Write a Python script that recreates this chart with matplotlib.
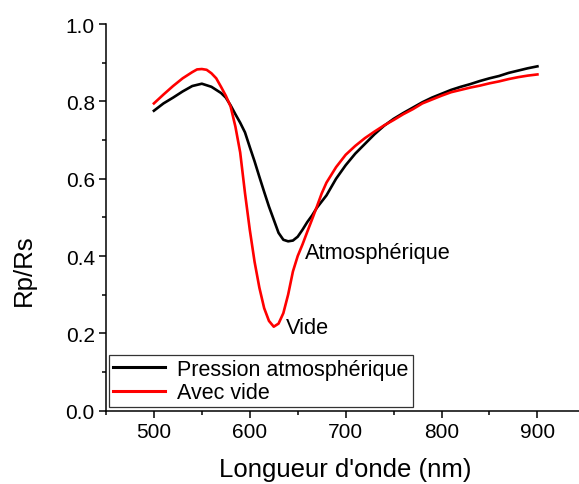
import matplotlib
matplotlib.use("Agg")
import matplotlib.pyplot as plt
from matplotlib.ticker import MultipleLocator

plt.rcParams['font.family'] = ['Liberation Sans', 'DejaVu Sans']

wl_atm = [500, 510, 520, 530, 540, 550, 560, 570, 575, 580, 585, 590, 595, 600,
          605, 610, 615, 620, 625, 630, 635, 640, 645, 650, 655, 660, 665, 670,
          680, 690, 700, 710, 720, 730, 740, 750, 760, 770, 780, 790, 800, 810,
          820, 830, 840, 850, 860, 870, 880, 890, 900]
rp_atm = [0.776, 0.795, 0.810, 0.826, 0.840, 0.846, 0.838, 0.822, 0.810, 0.790,
          0.767, 0.745, 0.720, 0.682, 0.645, 0.605, 0.566, 0.528, 0.494, 0.460,
          0.442, 0.438, 0.440, 0.450, 0.468, 0.488, 0.505, 0.525, 0.557, 0.600,
          0.635, 0.665, 0.690, 0.715, 0.737, 0.755, 0.770, 0.784, 0.798, 0.810,
          0.820, 0.830, 0.838, 0.845, 0.853, 0.860, 0.866, 0.874, 0.880, 0.886,
          0.891]

wl_vide = [500, 510, 520, 530, 540, 545, 550, 555, 560, 565, 570, 575, 580, 585,
           590, 595, 600, 605, 610, 615, 620, 625, 630, 635, 640, 645, 650, 655,
           660, 665, 670, 675, 680, 690, 700, 710, 720, 730, 740, 750, 760, 770,
           780, 790, 800, 810, 820, 830, 840, 850, 860, 870, 880, 890, 900]
rp_vide = [0.795, 0.818, 0.840, 0.860, 0.876, 0.883, 0.884, 0.882, 0.873, 0.860,
           0.838, 0.815, 0.787, 0.735, 0.668, 0.563, 0.468, 0.385, 0.318, 0.265,
           0.232, 0.217, 0.225, 0.252, 0.300, 0.360, 0.400, 0.430, 0.463, 0.495,
           0.528, 0.562, 0.590, 0.630, 0.662, 0.685, 0.705, 0.722, 0.738, 0.752,
           0.767, 0.780, 0.795, 0.805, 0.815, 0.824, 0.830, 0.836, 0.841, 0.847,
           0.852, 0.858, 0.863, 0.867, 0.870]

labels = ["Pression atmosphérique", "Avec vide"]

fig = plt.figure(figsize=(5.79, 4.85), dpi=100)
ax = fig.add_axes([0.183, 0.1515, 1.011 - 0.183, 0.948 - 0.1515])

ax.plot(wl_atm, rp_atm, color='black', lw=1.9, label=labels[0])
ax.plot(wl_vide, rp_vide, color='#ff0000', lw=1.9, label=labels[1])

ax.set_xlim(450, 950)
ax.set_ylim(0, 1.0)
ax.xaxis.set_major_locator(MultipleLocator(100))
ax.xaxis.set_minor_locator(MultipleLocator(50))
ax.yaxis.set_major_locator(MultipleLocator(0.2))
ax.yaxis.set_minor_locator(MultipleLocator(0.1))
ax.yaxis.set_major_formatter(matplotlib.ticker.FormatStrFormatter('%.1f'))

for s in ['top', 'right']:
    ax.spines[s].set_visible(False)
for s in ['left', 'bottom']:
    ax.spines[s].set_linewidth(1.1)

ax.tick_params(which='major', direction='out', length=5, width=1.1, labelsize=15, pad=3)
ax.tick_params(which='minor', direction='out', length=3, width=1.1)

ax.set_xlabel("Longueur d'onde (nm)", fontsize=18.5, labelpad=11.5)
ax.set_ylabel("Rp/Rs", fontsize=18.5)
ax.yaxis.set_label_coords(-0.147, 0.366)

ax.text(658, 0.410, "Atmosphérique", fontsize=15.7, va='center', ha='left')
ax.text(638, 0.214, "Vide", fontsize=15.7, va='center', ha='left')

leg = fig.legend(loc='lower left', bbox_to_anchor=(0.188, 0.1588), borderaxespad=0,
                 fontsize=15.5, handlelength=2.45, handletextpad=0.55, labelspacing=0.12,
                 borderpad=0.18, fancybox=False, frameon=True, edgecolor='black')
leg.get_frame().set_linewidth(0.9)
for l in leg.get_lines():
    l.set_linewidth(2.2)

fig.savefig("out.png", dpi=100)
